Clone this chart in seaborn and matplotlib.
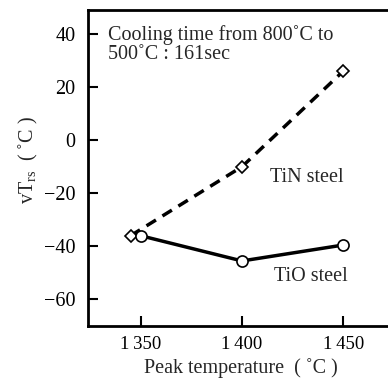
import matplotlib
matplotlib.use("Agg")
import matplotlib.pyplot as plt
import seaborn as sns
import pandas as pd

tin_x = [1345, 1400, 1450]
tin_y = [-36, -10, 26]
tio_x = [1350, 1400, 1450]
tio_y = [-36, -45.5, -39.5]
xticks = [1350, 1400, 1450]
xtick_labels = ["1\u2009350", "1\u2009400", "1\u2009450"]
yticks = [-60, -40, -20, 0, 20, 40]

sns.set_style("ticks")
plt.rcParams['font.family'] = ['Liberation Serif', 'DejaVu Serif']
plt.rcParams['mathtext.fontset'] = 'custom'
plt.rcParams['mathtext.rm'] = 'Liberation Serif'

fig = plt.figure(figsize=(3.88, 3.79), dpi=100)
W, H = 388, 379
left, right, top, bottom = 88, 394, 10, 326
ax = fig.add_axes([left / W, 1 - bottom / H, (right - left) / W, (bottom - top) / H])

df_tin = pd.DataFrame({"x": tin_x, "y": tin_y})
df_tio = pd.DataFrame({"x": tio_x, "y": tio_y})

sns.lineplot(data=df_tin, x="x", y="y", ax=ax, color="black", linewidth=2.5,
             dashes=False, marker="D", markersize=6.5, markerfacecolor="white",
             markeredgecolor="black", markeredgewidth=1.2, linestyle=(0, (3.2, 2.2)))
sns.lineplot(data=df_tio, x="x", y="y", ax=ax, color="black", linewidth=2.5,
             marker="o", markersize=8, markerfacecolor="white",
             markeredgecolor="black", markeredgewidth=1.2)

ax.set_xlim(1324, 1475)
ax.set_ylim(-70, 49)
ax.set_xticks(xticks)
ax.set_xticklabels(xtick_labels)
ax.set_yticks(yticks)
ax.tick_params(axis="both", direction="in", length=7, width=1.5, labelsize=13.5,
               colors="black", pad=7)
ax.tick_params(axis="y", pad=9, labelsize=14.5)
for s in ax.spines.values():
    s.set_linewidth(2)
    s.set_color("black")

ax.set_xlabel("Peak temperature  ( \u02daC )", fontsize=14.5, labelpad=4)
ax.set_ylabel(r"$\mathrm{vT_{rs}}$" + "  ( \u02daC )", fontsize=14.5)
ax.yaxis.set_label_coords((40 - left) / (right - left), 1 - (160 - top) / (bottom - top))

ax.text(1334, 43.5, "Cooling time from 800\u02daC to\n500\u02daC : 161sec", fontsize=14.5,
        va="top", ha="left", linespacing=1.0)
ax.text(1432, -14, "TiN steel", fontsize=14.5, ha="center", va="center")
ax.text(1434, -51.5, "TiO steel", fontsize=14.5, ha="center", va="center")

fig.savefig("out.png", dpi=100)
